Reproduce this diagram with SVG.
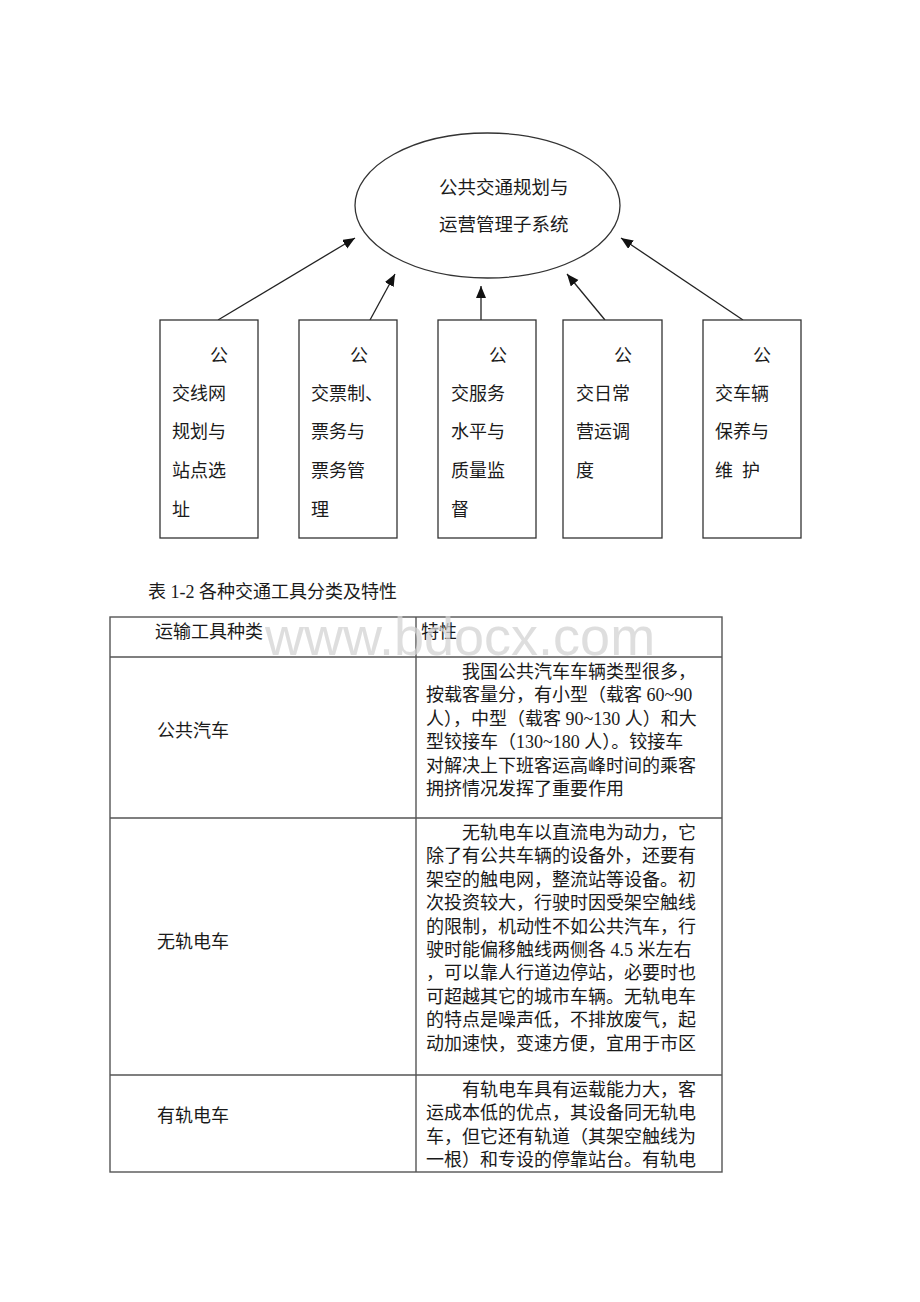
<svg xmlns="http://www.w3.org/2000/svg" width="920" height="1302" viewBox="0 0 920 1302">
<style>
.t{font-family:"Liberation Serif","Noto Sans CJK SC",serif;font-size:18px;fill:#1a1a1a}
.te{font-family:"Liberation Serif","Noto Sans CJK SC",serif;font-size:18.5px;fill:#1a1a1a}
.box{fill:#fff;stroke:#333;stroke-width:1.3}
.conn{stroke:#222;stroke-width:1.3;fill:none;marker-end:url(#ah)}
.grid{stroke:#555;stroke-width:1.4;fill:none}
.wm{font-family:"Liberation Sans",Arial,sans-serif;font-size:54px;fill:#d4d4d4;opacity:0.75}
</style>
<defs>
<marker id="ah" markerUnits="userSpaceOnUse" markerWidth="13" markerHeight="11" refX="12" refY="5" orient="auto">
<path d="M0,0 L12,5 L0,10 z" fill="#111"/>
</marker>
</defs>
<rect width="920" height="1302" fill="#fff"/>

<g id="connectors">
<line class="conn" x1="218" y1="320" x2="355" y2="238"/>
<line class="conn" x1="370" y1="320" x2="395" y2="274"/>
<line class="conn" x1="481" y1="320" x2="481" y2="286"/>
<line class="conn" x1="605" y1="320" x2="567" y2="274"/>
<line class="conn" x1="743" y1="320" x2="621" y2="238"/>
</g>

<g id="root">
<ellipse cx="487.5" cy="205.5" rx="132.5" ry="72.5" fill="#fff" stroke="#333" stroke-width="1.3"/>
<text class="te" x="439" y="194">公共交通规划与</text>
<text class="te" x="439" y="231">运营管理子系统</text>
</g>

<g id="box1">
<rect class="box" x="160" y="320" width="98" height="218"/>
<text class="t" x="210" y="362">公</text>
<text class="t" x="172" y="400">交线网</text>
<text class="t" x="172" y="438">规划与</text>
<text class="t" x="172" y="477">站点选</text>
<text class="t" x="172" y="516">址</text>
</g>
<g id="box2">
<rect class="box" x="299" y="320" width="98" height="218"/>
<text class="t" x="350" y="362">公</text>
<text class="t" x="311" y="400">交票制、</text>
<text class="t" x="311" y="438">票务与</text>
<text class="t" x="311" y="477">票务管</text>
<text class="t" x="311" y="516">理</text>
</g>
<g id="box3">
<rect class="box" x="438" y="320" width="98" height="218"/>
<text class="t" x="489" y="362">公</text>
<text class="t" x="451" y="400">交服务</text>
<text class="t" x="451" y="438">水平与</text>
<text class="t" x="451" y="477">质量监</text>
<text class="t" x="451" y="516">督</text>
</g>
<g id="box4">
<rect class="box" x="563" y="320" width="99" height="218"/>
<text class="t" x="614" y="362">公</text>
<text class="t" x="576" y="400">交日常</text>
<text class="t" x="576" y="438">营运调</text>
<text class="t" x="576" y="477">度</text>
</g>
<g id="box5">
<rect class="box" x="703" y="320" width="98" height="218"/>
<text class="t" x="753" y="362">公</text>
<text class="t" x="715" y="400">交车辆</text>
<text class="t" x="715" y="438">保养与</text>
<text class="t" x="715" y="477" word-spacing="4.5">维 护</text>
</g>

<g id="table">
<text class="t" x="148" y="598">表 1-2 各种交通工具分类及特性</text>
<rect class="grid" x="110" y="617" width="612" height="555"/>
<line class="grid" x1="416" y1="617" x2="416" y2="1172"/>
<line class="grid" x1="110" y1="657" x2="722" y2="657"/>
<line class="grid" x1="110" y1="818" x2="722" y2="818"/>
<line class="grid" x1="110" y1="1075" x2="722" y2="1075"/>

<text class="t" x="155" y="638">运输工具种类</text>
<text class="t" x="421" y="638">特性</text>

<text class="t" x="157" y="737">公共汽车</text>
<text class="t" x="462" y="678">我国公共汽车车辆类型很多，</text>
<text class="t" x="426" y="701.4">按载客量分，有小型（载客 60~90</text>
<text class="t" x="426" y="724.8">人），中型（载客 90~130 人）和大</text>
<text class="t" x="426" y="748.2">型铰接车（130~180 人）。铰接车</text>
<text class="t" x="426" y="771.6">对解决上下班客运高峰时间的乘客</text>
<text class="t" x="426" y="795">拥挤情况发挥了重要作用</text>

<text class="t" x="157" y="948">无轨电车</text>
<text class="t" x="462" y="839">无轨电车以直流电为动力，它</text>
<text class="t" x="426" y="862.4">除了有公共车辆的设备外，还要有</text>
<text class="t" x="426" y="885.8">架空的触电网，整流站等设备。初</text>
<text class="t" x="426" y="909.2">次投资较大，行驶时因受架空触线</text>
<text class="t" x="426" y="932.6">的限制，机动性不如公共汽车，行</text>
<text class="t" x="426" y="956">驶时能偏移触线两侧各 4.5 米左右</text>
<text class="t" x="426" y="979.4">，可以靠人行道边停站，必要时也</text>
<text class="t" x="426" y="1002.8">可超越其它的城市车辆。无轨电车</text>
<text class="t" x="426" y="1026.2">的特点是噪声低，不排放废气，起</text>
<text class="t" x="426" y="1049.6">动加速快，变速方便，宜用于市区</text>

<text class="t" x="157" y="1122">有轨电车</text>
<text class="t" x="462" y="1096">有轨电车具有运载能力大，客</text>
<text class="t" x="426" y="1119.4">运成本低的优点，其设备同无轨电</text>
<text class="t" x="426" y="1142.8">车，但它还有轨道（其架空触线为</text>
<text class="t" x="426" y="1166.2">一根）和专设的停靠站台。有轨电</text>
</g>

<text class="wm" x="265" y="655">www.bdocx.com</text>
</svg>
